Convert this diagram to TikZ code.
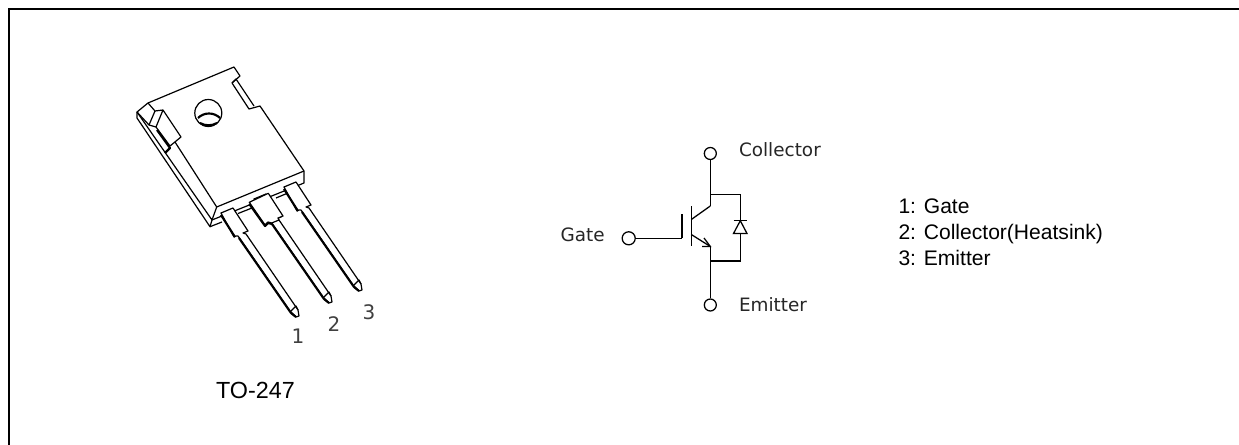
\documentclass[tikz,border=0pt]{standalone}
\usepackage{fontspec}
\setmainfont{Liberation Sans}
\newfontfamily\symfont{DejaVu Sans}
\tikzset{every picture/.style={line width=0.75pt}}
\tikzset{
  pkgline/.style={line width=0.9pt,line join=round},
  pkgheavy/.style={line width=1.6pt,line join=round},
  wire/.style={line width=0.95pt},
  terminal/.style={draw,circle,line width=0.95pt,minimum size=9pt,inner sep=0pt},
  symlabel/.style={anchor=west,inner sep=0pt,font=\symfont\fontsize{13.8}{16}\selectfont,text=black!85},
  pinlabel/.style={inner sep=0pt,font=\symfont\fontsize{15}{18}\selectfont,text=black!75},
  textlabel/.style={anchor=base west,inner sep=0pt,font=\fontsize{15.8}{19}\selectfont}
}

\begin{document}
\begin{tikzpicture}[x=0.75pt,y=0.75pt,yscale=-1,xscale=1]
\useasboundingbox (0,0) rectangle (1239,445);

% Frame
\draw [line width=1.5pt] (9,445) -- (9,9) -- (1239,9) ;

% Package body
\draw [pkgline] (148,103) -- (234,67) -- (240,76) -- (232,83) -- (249,109) -- (260,106) -- (304,171) -- (304,183) -- (212,220) -- (210,226.7) -- (137,118) -- (137,112) -- cycle ;
\draw [pkgline] (137,112) -- (212,220) -- (216.7,207) -- (304,171) ;
\draw [pkgline] (210,226.7) -- (222,222) ;
\draw [pkgline] (175,142) -- (216.7,207) ;
\draw [pkgline] (232,83) -- (236,79) -- (254,106) ;
% Hole
\draw [pkgline] (208.3,113) circle [radius=13.5] ;
\draw [pkgheavy] (198,118) .. controls (204,112) and (214,112) .. (220,118) ;
\draw [pkgheavy] (200,123) .. controls (205,126) and (212,126) .. (217,123) ;
% Corner key
\draw [pkgline] (148,103) -- (155,111) -- (163,110) -- (181,137) -- (170,146) -- (156,127) -- (163,110) ;
\draw [pkgline] (137,112) -- (149,125) -- (155,111) ;
\draw [pkgline] (149,125) -- (156,127) ;
\draw [pkgheavy] (157,130) -- (170,148) -- (165,153) ;

% Second edge of the body between the leads
\draw [pkgline] (238,213.5) -- (252,208) (276,198) -- (288,193) ;

% Leads
\foreach \dx/\dy in {0/0,33/-14,63/-26} {
  \begin{scope}[shift={(\dx,\dy)}]
    \draw [pkgline,fill=white] (221,213) -- (233,208) -- (248,231) -- (243,233) -- (246,234) -- (298,310) -- (299,316) -- (296,317) -- (291,312) -- (290,311) -- (238,236) -- (236,236) -- (234,237) -- cycle ;
    \draw [pkgheavy] (221,215) -- (235,237) (239,238) -- (291,313) -- (296,317) ;
    \draw [pkgline] (291,311) -- (296,306) -- (298,310) ;
  \end{scope}
}
\draw [pkgline,fill=white] (249.3,202.3) -- (268.3,193.3) -- (283,216) -- (278,218) -- (279,220) -- (271.7,223) -- (268,222) -- (265,225) -- cycle ;
\draw [pkgheavy] (249.3,204) -- (265,226) -- (268,223) -- (272,224) ;

% Pin numbers
\node [pinlabel] (pinone) at (298,336) {1};
\node [pinlabel] (pintwo) at (334,324) {2};
\node [pinlabel] (pinthree) at (369,312) {3};
\node [inner sep=0pt,font=\fontsize{17.5}{21}\selectfont] (pkgname) at (255.5,390) {TO-247};

% Terminals
\node [terminal] (collector) at (710.3,153.5) {};
\node [terminal] (emitter) at (710.3,305) {};
\node [terminal,minimum size=9.8pt] (gate) at (628.7,238.3) {};
\node [symlabel] (collectorlabel) at (738.5,150) {Collector};
\node [symlabel] (emitterlabel) at (738.5,305) {Emitter};
\node [symlabel] (gatelabel) at (560,235) {Gate};

% Junctions
\coordinate (ctop) at (710.3,194.5);
\coordinate (cbase) at (710.3,206);
\coordinate (ebase) at (710.3,246.5);
\coordinate (ebot) at (710.3,261);
\coordinate (dtop) at (740.3,194.5);
\coordinate (dbot) at (740.3,261);
\coordinate (gplate) at (682,238.3);

% IGBT
\draw [wire] (collector) -- (cbase) ;
\draw [wire] (emitter) -- (ebase) ;
\draw [wire] (gate) -- (gplate) ;
\draw [wire] (682,214.5) -- (gplate) ;
\draw [line width=1.2pt] (691.3,206.5) -- (691.3,246) ;
\draw [wire] (691.3,219.5) -- (cbase) ;
\draw [wire] (691.3,234.5) -- (ebase) ;
\draw [wire] (702,246.5) -- (ebase) -- (704,238) ;
% Diode
\draw [line width=1.4pt] (ctop) -- (dtop) ;
\draw [wire] (dtop) -- (dbot) -- (ebot) ;
\draw [wire,fill=white] (740.3,220.7) -- (733.5,233.5) -- (747,233.5) -- cycle ;
\draw [line width=1.2pt] (733.5,220.7) -- (747,220.7) ;

% Pin list
\node [textlabel] (gatetext) at (898,214) {1: Gate};
\node [textlabel] (collectortext) at (898,240) {2: Collector(Heatsink)};
\node [textlabel] (emittertext) at (898,266) {3: Emitter};

\end{tikzpicture}
\end{document}
